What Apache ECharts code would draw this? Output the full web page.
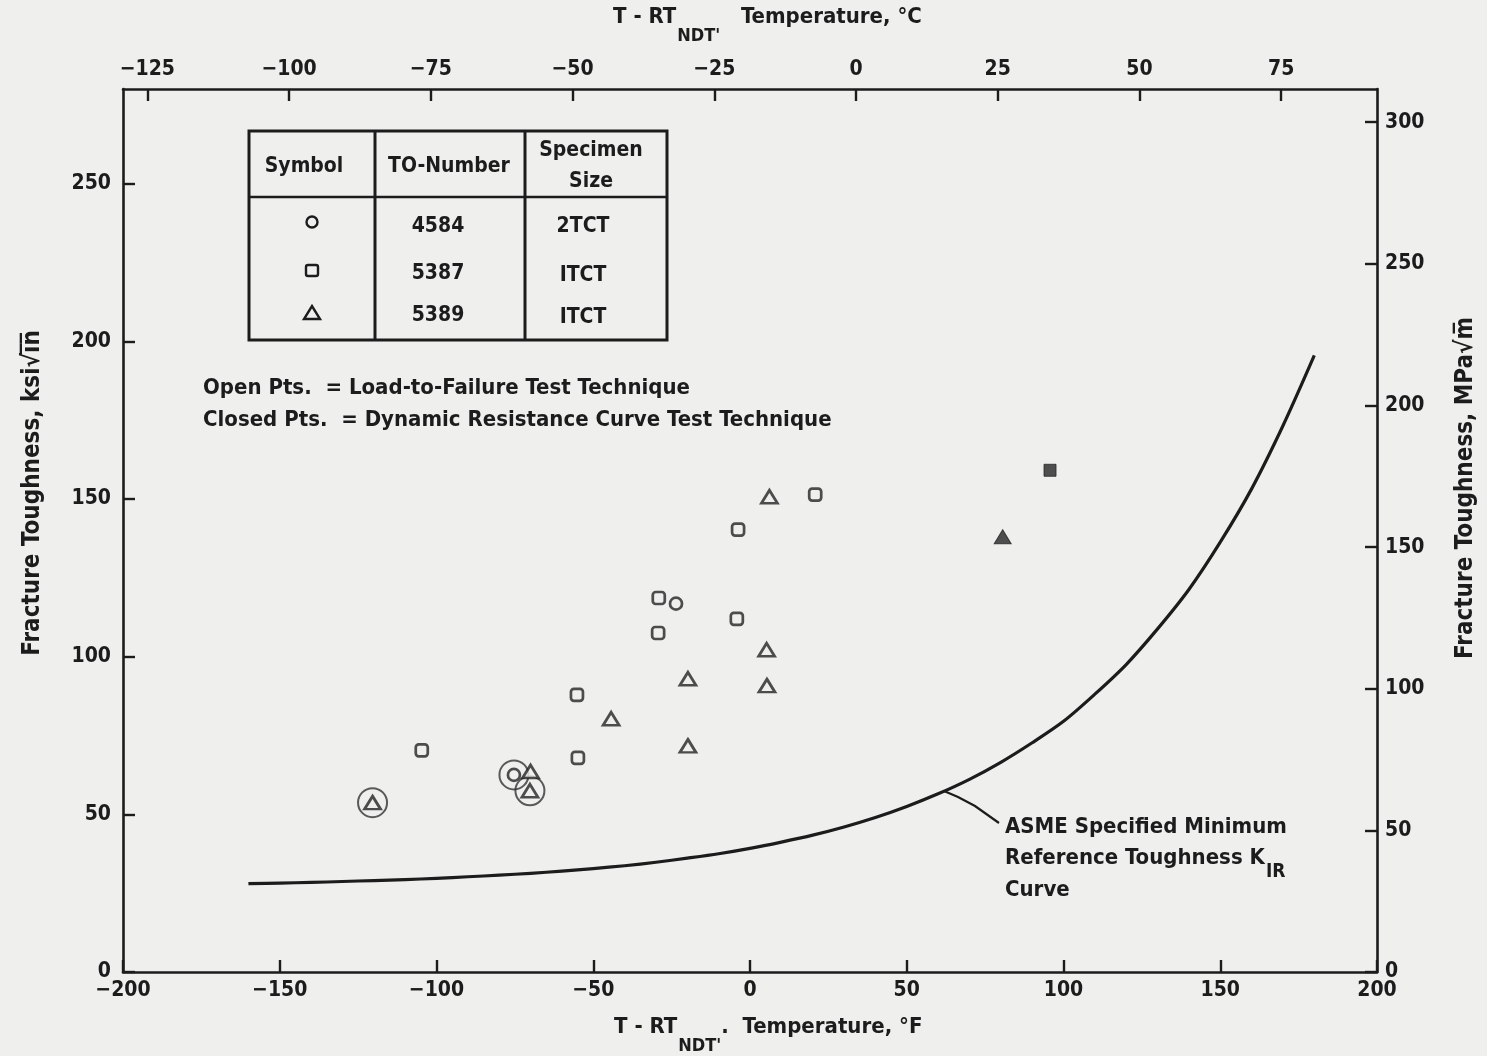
<!DOCTYPE html>
<html><head><meta charset="utf-8">
<script src="https://cdn.jsdelivr.net/npm/echarts@6/dist/echarts.min.js"></script>
<style>html,body{margin:0;padding:0;background:#efefed}#c{width:1487px;height:1056px}</style>
</head><body><div id="c"></div>
<script>
// ---- data ----
const fTicks = [-200, -150, -100, -50, 0, 50, 100, 150, 200];
const cTicks = [-125, -100, -75, -50, -25, 0, 25, 50, 75];
const ksiTicks = [0, 50, 100, 150, 200, 250];
const mpaTicks = [0, 50, 100, 150, 200, 250, 300];

// [T - RTNDT (°F), K (ksi√in)]
const circleOpen = [[-75.3, 62.5], [-23.6, 116.8]];                       // TO 4584, 2TCT
const squareOpen = [[-104.7, 70.3], [-55.2, 87.9], [-54.9, 67.9], [-29.1, 118.6],
                    [-29.3, 107.5], [-3.8, 140.3], [-4.2, 112.0], [20.8, 151.4]]; // TO 5387
const squareClosed = [[95.7, 159.1]];
const triangleOpen = [[-120.4, 53.7], [-70.0, 63.6], [-70.2, 57.5], [-44.3, 80.3],
                      [-19.8, 93.0], [-19.8, 71.7], [5.3, 102.2], [5.4, 90.8], [6.2, 150.7]]; // TO 5389
const triangleClosed = [[80.6, 138.0]];
const ringed = [[-120.4, 53.7], [-75.3, 62.5], [-70.2, 57.5]];

// ASME KIR reference curve
const kirTemps  = [-160, -150, -140, -130, -120, -110, -100, -90, -80, -70, -60, -50, -40, -30, -20, -10,
                   0, 10, 20, 30, 40, 50, 60, 70, 80, 90, 100, 110, 120, 130, 140, 150, 160, 170, 180];
const kirValues = [28.0, 28.2, 28.4, 28.7, 29.0, 29.3, 29.7, 30.2, 30.7, 31.3, 32.0, 32.8, 33.7, 34.8, 36.1, 37.5,
                   39.2, 41.2, 43.4, 46.0, 49.0, 52.5, 56.5, 61.1, 66.5, 72.7, 79.5, 88.1, 97.5, 108.8, 121.3, 136.3, 153.2, 173.2, 195.5];

const tableHeader = ['Symbol', 'TO-Number', 'Specimen\nSize'];
const tableNumbers = ['4584', '5387', '5389'];
const tableSizes = ['2TCT', 'ITCT', 'ITCT'];

// ---- styling ----
const BG = '#efefed';
const INK = '#1c1c1c';
const FONT = '"DejaVu Sans Condensed", "Liberation Sans Narrow", sans-serif';
const minus = v => (v < 0 ? '\u2212' + Math.abs(v) : String(v));

const axisCommon = {
  type: 'value',
  axisLine: { show: true, onZero: false, lineStyle: { color: INK, width: 2.6 } },
  axisTick: { show: true, inside: true, length: 12, lineStyle: { color: INK, width: 2.4 } },
  splitLine: { show: false },
  axisLabel: { color: INK, fontFamily: FONT, fontSize: 21, fontWeight: 'bold', formatter: minus }
};
const ax = (o) => echarts.util.merge(echarts.util.clone(axisCommon), o, true);

const chart = echarts.init(document.getElementById('c'), null, { renderer: 'canvas' });

const openStyle = { color: BG, borderColor: '#232323', borderWidth: 2.7 };
const closedStyle = { color: '#262626', borderColor: '#262626', borderWidth: 1 };

const txt = (text, x, y, extra, rot) => ({
  type: 'text', x, y, rotation: rot || 0, silent: true,
  style: Object.assign({ text, fill: INK, font: 'bold 21px ' + FONT, align: 'left', verticalAlign: 'middle' }, extra || {})
});

const richMain = { fontFamily: FONT, fontWeight: 'bold', fontSize: 22, lineHeight: 24, verticalAlign: 'top', fill: INK };
const richSub = { fontFamily: FONT, fontWeight: 'bold', fontSize: 18, lineHeight: 20, padding: [21, 0, 0, 1], verticalAlign: 'top', fill: INK };

const tableRowsY = [222, 272, 314];

const graphic = [
  // axis names
  { type: 'text', x: 613, y: 6, silent: true,
    style: { text: "{m|T - RT}{s|NDT'}{m|   Temperature, \u00B0C}", rich: { m: richMain, s: richSub }, fill: INK } },
  { type: 'text', x: 614, y: 1016, silent: true,
    style: { text: "{m|T - RT}{s|NDT'}{m|.  Temperature, \u00B0F}", rich: { m: richMain, s: richSub }, fill: INK } },
  txt('Fracture Toughness, ksi\u221Ai\u0305n\u0305', 33, 493, { align: 'center', verticalAlign: 'middle', font: 'bold 24px ' + FONT }, Math.PI / 2),
  txt('Fracture Toughness, MPa\u221Am\u0305', 1466, 488, { align: 'center', verticalAlign: 'middle', font: 'bold 24px ' + FONT }, Math.PI / 2),
  // table
  { type: 'rect', silent: true, shape: { x: 249, y: 131, width: 418, height: 209 }, style: { fill: 'none', stroke: INK, lineWidth: 3 } },
  { type: 'line', silent: true, shape: { x1: 375, y1: 131, x2: 375, y2: 340 }, style: { stroke: INK, lineWidth: 3 } },
  { type: 'line', silent: true, shape: { x1: 525, y1: 131, x2: 525, y2: 340 }, style: { stroke: INK, lineWidth: 3 } },
  { type: 'line', silent: true, shape: { x1: 249, y1: 197, x2: 667, y2: 197 }, style: { stroke: INK, lineWidth: 2.5 } },
  txt(tableHeader[0], 304, 167, { align: 'center' }),
  txt(tableHeader[1], 449, 167, { align: 'center' }),
  txt(tableHeader[2], 591, 166, { align: 'center', lineHeight: 31 }),
  { type: 'circle', silent: true, shape: { cx: 312, cy: tableRowsY[0], r: 5.5 }, style: { fill: 'none', stroke: INK, lineWidth: 2.4 } },
  { type: 'rect', silent: true, shape: { x: 306, y: tableRowsY[1] - 7, width: 12, height: 11, r: 2 }, style: { fill: 'none', stroke: INK, lineWidth: 2.4 } },
  { type: 'polygon', silent: true, shape: { points: [[304, tableRowsY[2] + 5], [320, tableRowsY[2] + 5], [312, tableRowsY[2] - 8]] }, style: { fill: 'none', stroke: INK, lineWidth: 2.4 } },
  txt(tableNumbers[0], 438, tableRowsY[0] + 5, { align: 'center' }),
  txt(tableNumbers[1], 438, tableRowsY[1] + 2, { align: 'center' }),
  txt(tableNumbers[2], 438, tableRowsY[2] + 2, { align: 'center' }),
  txt(tableSizes[0], 583, tableRowsY[0] + 5, { align: 'center' }),
  txt(tableSizes[1], 583, tableRowsY[1] + 4, { align: 'center' }),
  txt(tableSizes[2], 583, tableRowsY[2] + 4, { align: 'center' }),
  // notes
  txt('Open Pts.  = Load-to-Failure Test Technique', 203, 388, { font: 'bold 22px ' + FONT }),
  txt('Closed Pts.  = Dynamic Resistance Curve Test Technique', 203, 420, { font: 'bold 22px ' + FONT }),
  // KIR annotation
  txt('ASME Specified Minimum', 1005, 827, { font: 'bold 22px ' + FONT }),
  { type: 'text', x: 1005, y: 847, silent: true,
    style: { text: '{m|Reference Toughness K}{s|IR}', rich: {
      m: Object.assign({}, richMain, { fontSize: 22 }), s: Object.assign({}, richSub, { fontSize: 19, padding: [16, 0, 0, 1] }) }, fill: INK } },
  txt('Curve', 1005, 890, { font: 'bold 22px ' + FONT }),
  { type: 'polyline', silent: true, shape: { points: [[944, 791], [958, 797], [975, 806], [999, 823]] }, style: { fill: 'none', stroke: INK, lineWidth: 2.2 } }
];

chart.setOption({
  animation: false,
  backgroundColor: BG,
  grid: { left: 123, right: 110, top: 89, bottom: 84, containLabel: false },
  xAxis: [
    ax({ position: 'bottom', min: -200, max: 200, interval: 50,
         axisLabel: { margin: 8, customValues: fTicks }, axisTick: { customValues: fTicks } }),
    ax({ position: 'top', min: -129.3, max: 91.9,
         axisLabel: { margin: 9, customValues: cTicks }, axisTick: { customValues: cTicks } })
  ],
  yAxis: [
    ax({ position: 'left', min: 0, max: 280,
         axisLabel: { margin: 12, customValues: ksiTicks }, axisTick: { customValues: ksiTicks } }),
    ax({ position: 'right', min: 0, max: 311.7,
         axisLabel: { margin: 8, customValues: mpaTicks }, axisTick: { customValues: mpaTicks } })
  ],
  series: [
    { type: 'line', name: 'ASME KIR', data: kirTemps.map((t, i) => [t, kirValues[i]]),
      smooth: 0.3, showSymbol: false, symbol: 'none',
      lineStyle: { color: INK, width: 3.2, join: 'round' }, silent: true, z: 2 },
    { type: 'scatter', name: 'ringed', data: ringed, symbol: 'circle', symbolSize: 29,
      itemStyle: { color: 'rgba(0,0,0,0)', borderColor: '#333', borderWidth: 2 }, silent: true, z: 3 },
    { type: 'scatter', name: '4584', data: circleOpen, symbol: 'circle', symbolSize: 12, itemStyle: openStyle, silent: true, z: 4 },
    { type: 'scatter', name: '5387', data: squareOpen, symbol: 'roundRect', symbolSize: 12, itemStyle: openStyle, silent: true, z: 4 },
    { type: 'scatter', name: '5387 closed', data: squareClosed, symbol: 'rect', symbolSize: 12, itemStyle: closedStyle, silent: true, z: 4 },
    { type: 'scatter', name: '5389', data: triangleOpen, symbol: 'triangle', symbolSize: [16, 13], itemStyle: openStyle, silent: true, z: 4 },
    { type: 'scatter', name: '5389 closed', data: triangleClosed, symbol: 'triangle', symbolSize: [17, 14], itemStyle: closedStyle, silent: true, z: 4 }
  ],
  graphic: graphic
});
</script></body></html>
